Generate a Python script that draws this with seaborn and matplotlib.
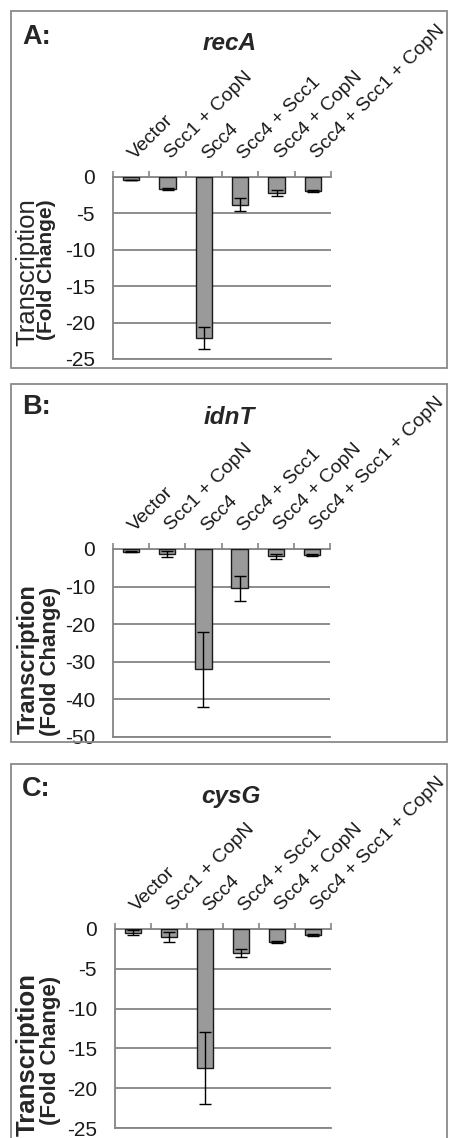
import numpy as np
import pandas as pd
import matplotlib
matplotlib.use("Agg")
import matplotlib.pyplot as plt
import matplotlib.transforms as mtransforms
import seaborn as sns
from matplotlib.patches import Rectangle

# ------------------------------------------------------------
# Data
# ------------------------------------------------------------
categories = ["Vector", "Scc1 + CopN", "Scc4", "Scc4 + Scc1",
              "Scc4 + CopN", "Scc4 + Scc1 + CopN"]

panel_letters = ["A:", "B:", "C:"]
genes = ["recA", "idnT", "cysG"]

recA_mean = [-0.4, -1.65, -22.1, -3.8, -2.2, -1.9]
recA_err = [0.05, 0.1, 1.55, 0.9, 0.4, 0.1]

idnT_mean = [-0.7, -1.2, -32.0, -10.5, -1.9, -1.6]
idnT_err = [0.2, 0.8, 9.9, 3.4, 0.7, 0.2]

cysG_mean = [-0.45, -1.0, -17.5, -3.0, -1.6, -0.75]
cysG_err = [0.35, 0.6, 4.5, 0.5, 0.1, 0.1]

y_limits = [-25, -50, -25]
y_steps = [5, 10, 5]

means = [recA_mean, idnT_mean, cysG_mean]
errs = [recA_err, idnT_err, cysG_err]

# ------------------------------------------------------------
# Style
# ------------------------------------------------------------
sns.set_style("white")
plt.rcParams["font.family"] = ["Liberation Sans", "DejaVu Sans"]
plt.rcParams["axes.unicode_minus"] = False

W, H = 449, 1138
fig = plt.figure(figsize=(W / 100, H / 100), dpi=100)

grid_col = "#858585"
bar_col = "#9a9a9a"

# pixel layout of each panel: box, axes, labels
layout = [
    dict(box=(11, 11, 447, 368), ax=(113, 331, 177, 359), title=(230, 43),
         letter=(22, 37), yl1=(27, 272), yl2=(47, 270),
         yl1_kw=dict(fontsize=18.5, fontweight="normal"),
         yl2_kw=dict(fontsize=15, fontweight="bold")),
    dict(box=(11, 384, 447, 742), ax=(113, 330, 549, 737), title=(229, 417),
         letter=(22, 407), yl1=(28, 659), yl2=(51, 661),
         yl1_kw=dict(fontsize=17, fontweight="bold"),
         yl2_kw=dict(fontsize=16, fontweight="bold")),
    dict(box=(11, 764, 447, 1150), ax=(115, 331, 929, 1128), title=(231, 797),
         letter=(22, 789), yl1=(28, 1055), yl2=(51, 1050),
         yl1_kw=dict(fontsize=18.5, fontweight="bold"),
         yl2_kw=dict(fontsize=16, fontweight="bold")),
]


def fx(px):
    return px / W


def fy(py):
    return 1 - py / H


# small nudge to the right for the rotated category labels
label_shift = mtransforms.ScaledTranslation(7 / 100, 0, fig.dpi_scale_trans)

for i in range(3):
    lay = layout[i]

    # panel frame
    x0, y0, x1, y1 = lay["box"]
    fig.patches.append(Rectangle((fx(x0), fy(y1)), fx(x1 - x0), (y1 - y0) / H,
                                 fill=False, ec="#8a8a8a", lw=1.3,
                                 transform=fig.transFigure, figure=fig))

    left, right, top, bottom = lay["ax"]
    ax = fig.add_axes([fx(left), fy(bottom), fx(right - left), (bottom - top) / H])

    df = pd.DataFrame({"condition": categories, "fold": means[i], "err": errs[i]})
    sns.barplot(data=df, x="condition", y="fold", order=categories,
                color=bar_col, edgecolor="#1a1a1a", linewidth=1.0,
                width=0.45, saturation=1, errorbar=None, ax=ax, zorder=3)
    ax.errorbar(np.arange(len(categories)), df["fold"], yerr=df["err"],
                fmt="none", ecolor="black", elinewidth=1.0, capsize=4.5,
                capthick=1.0, zorder=4)

    ax.set_xlim(-0.5, len(categories) - 0.5)
    ax.set_ylim(y_limits[i], 0)
    ax.set_yticks(np.arange(y_limits[i], 1, y_steps[i]))
    ax.yaxis.grid(True, color=grid_col, lw=1.3, zorder=0)
    ax.set_axisbelow(True)

    for side in ["top", "left", "bottom"]:
        ax.spines[side].set_color(grid_col)
        ax.spines[side].set_linewidth(1.3)
    ax.spines["right"].set_visible(False)

    # category labels on top, rotated like the Excel original
    ax.xaxis.tick_top()
    ax.set_xticks(np.arange(len(categories)))
    ax.set_xticklabels(categories)
    ax.set_xticks(np.arange(len(categories) + 1) - 0.5, minor=True)
    ax.tick_params(axis="x", which="major", length=0, pad=10.5,
                   labelsize=14, labelcolor="#1a1a1a")
    ax.tick_params(axis="x", which="minor", length=4.5, width=1.2,
                   color=grid_col, direction="out", top=True, bottom=False)
    for lab in ax.get_xticklabels():
        lab.set_rotation(45)
        lab.set_ha("left")
        lab.set_va("bottom")
        lab.set_rotation_mode("anchor")
        lab.set_transform(lab.get_transform() + label_shift)

    ax.tick_params(axis="y", length=3, width=1.2, color=grid_col, pad=10,
                   labelsize=15, labelcolor="#1a1a1a")
    ax.set_xlabel("")
    ax.set_ylabel("")

    # titles and labels
    tx, ty = lay["title"]
    fig.text(fx(tx), fy(ty), genes[i], ha="center", va="center",
             fontsize=17.5, fontstyle="italic", fontweight="bold")
    lx, ly = lay["letter"]
    fig.text(fx(lx), fy(ly), panel_letters[i], ha="left", va="center",
             fontsize=19.5, fontweight="bold")
    a, b = lay["yl1"]
    fig.text(fx(a), fy(b), "Transcription", ha="center", va="center",
             rotation=90, **lay["yl1_kw"])
    a, b = lay["yl2"]
    fig.text(fx(a), fy(b), "(Fold Change)", ha="center", va="center",
             rotation=90, **lay["yl2_kw"])

fig.savefig("out.png", dpi=100, facecolor="white")
